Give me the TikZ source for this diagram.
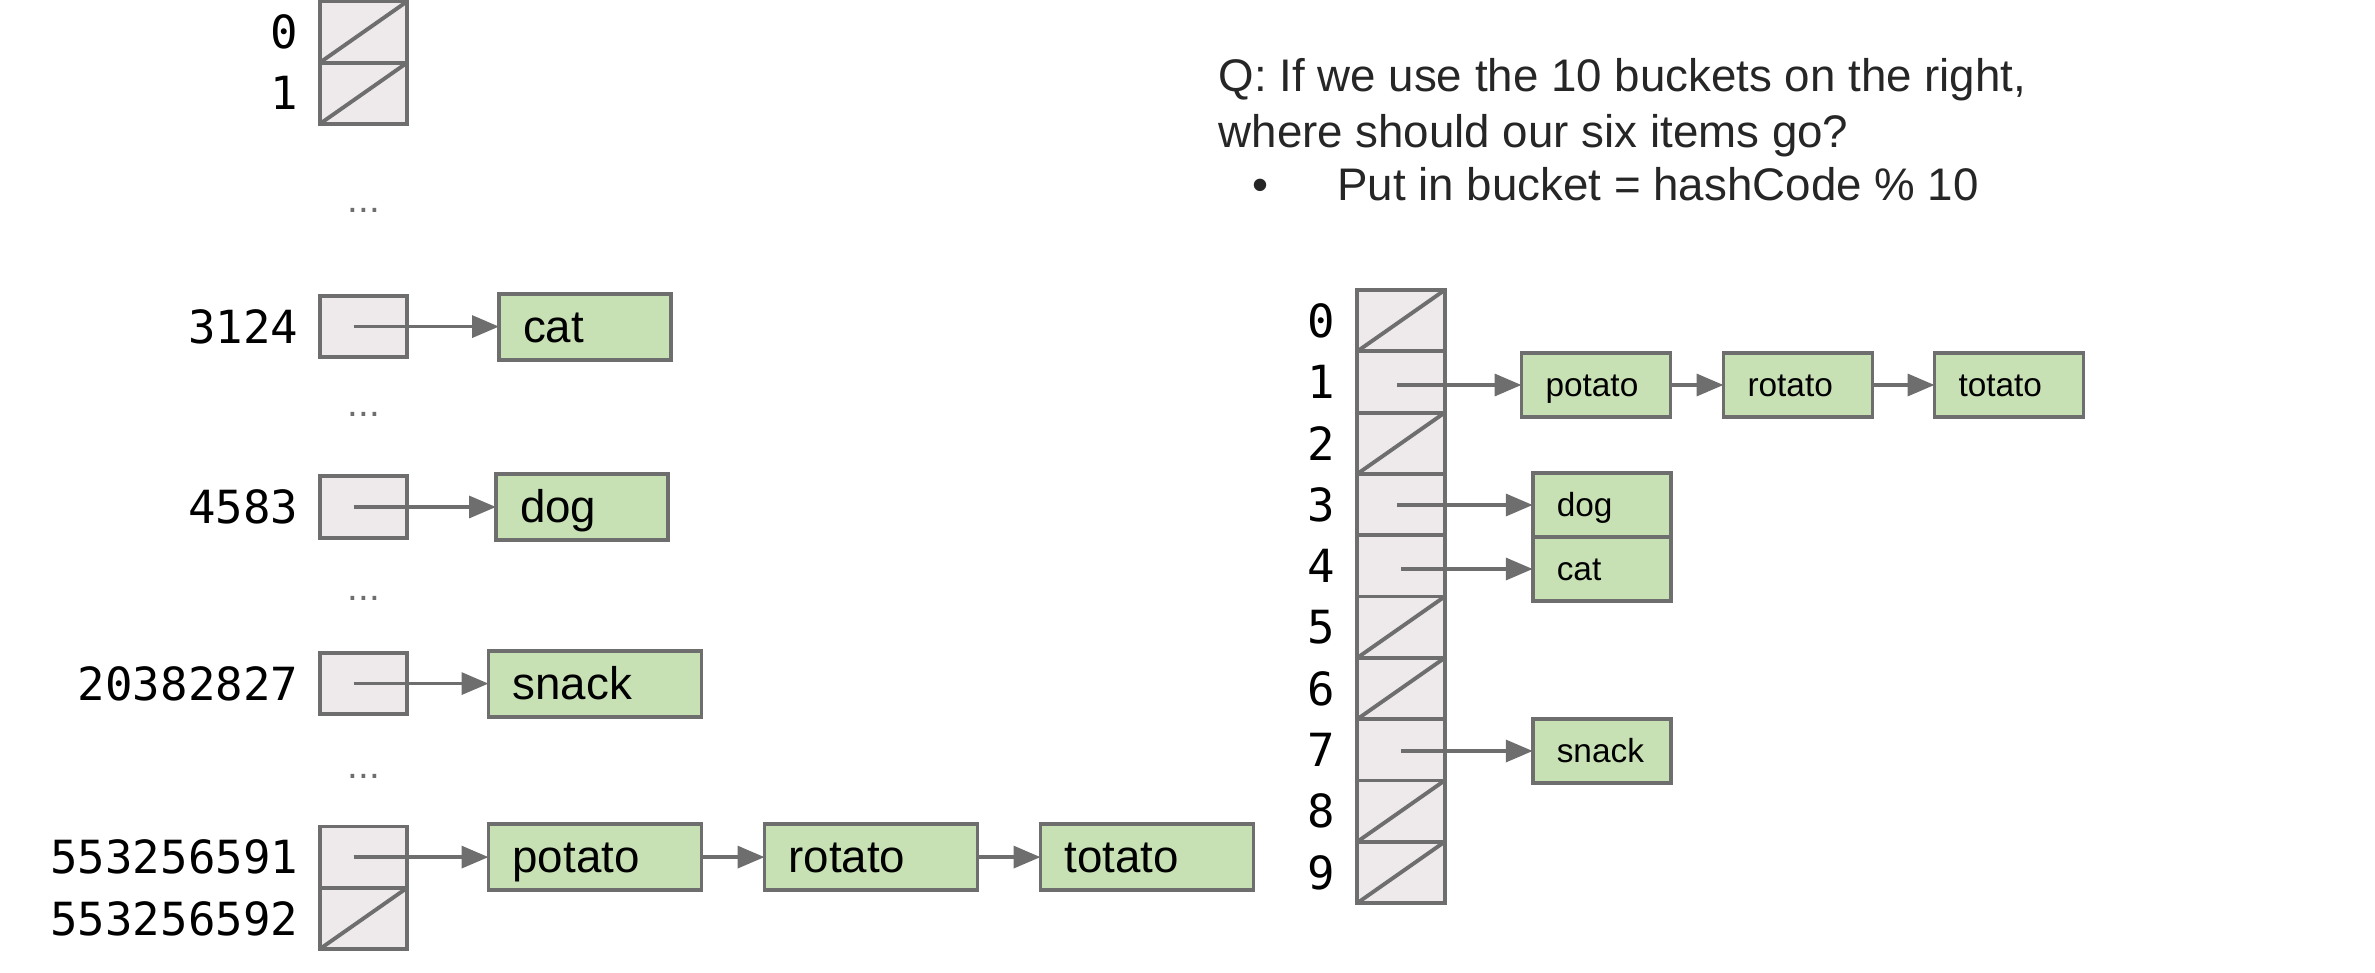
\documentclass[tikz,border=0pt]{standalone}
\usepackage{fontspec}
\setmainfont{Liberation Sans}
\setmonofont{DejaVu Sans Mono}
\usepackage{tikz}
\usetikzlibrary{positioning,arrows.meta}

\definecolor{slotgray}{HTML}{EEEAEC}
\definecolor{edgegray}{HTML}{6E6E6E}
\definecolor{itemgreen}{HTML}{C8E1B4}
\definecolor{textgray}{HTML}{262626}

\tikzset{
  bucket/.style={draw=edgegray, fill=slotgray, line width=1.1pt, minimum width=0.875cm, minimum height=0.613cm, inner sep=0pt, outer sep=0pt},
  entry/.style={draw=edgegray, fill=itemgreen, line width=1.1pt, minimum height=0.66cm, inner xsep=0.24cm, inner ysep=0pt, outer sep=0pt, text width=#1, align=left, text height=1.0em, text depth=0.12em, font=\fontsize{13}{15}\selectfont},
  smallentry/.style={entry=#1, minimum height=0.64cm, text height=0.8em, text depth=0.12em, font=\fontsize{9.5}{11}\selectfont},
  ptr/.style={draw=edgegray, line width=1pt, -{Triangle[length=2.7mm, width=2.2mm]}},
  nullptr/.style={draw=edgegray, line width=1.1pt},
  idx/.style={inner sep=0pt, font=\ttfamily\fontsize{13}{15}\selectfont},
  skip/.style={inner sep=0pt, text=edgegray, font=\fontsize{11}{12}\selectfont},
  question/.style={anchor=base west, inner sep=0pt, text=textgray, font=\fontsize{13}{16}\selectfont}
}

\begin{document}
\begin{tikzpicture}
\useasboundingbox (0,0) rectangle (23.75,9.72);

\node[bucket] (a0) at (3.635, 9.40) {};
\node[bucket, below=0pt of a0] (a1) {};
\node[bucket] (a3124) at (3.635, 6.454) {};
\node[bucket] (a4583) at (3.635, 4.650) {};
\node[bucket] (a20382827) at (3.635, 2.884) {};
\node[bucket] (a553256591) at (3.635, 1.149) {};
\node[bucket, below=0pt of a553256591] (a553256592) {};

\node[idx, left=0.21cm of a0] (la0) {0};
\node[idx, left=0.21cm of a1] (la1) {1};
\node[idx, left=0.21cm of a3124] (la3124) {3124};
\node[idx, left=0.21cm of a4583] (la4583) {4583};
\node[idx, left=0.21cm of a20382827] (la20382827) {20382827};
\node[idx, left=0.21cm of a553256591] (la553256591) {553256591};
\node[idx, left=0.21cm of a553256592] (la553256592) {553256592};

\node[skip] (d1) at (3.639, 7.619) {...};
\node[skip] (d2) at (3.639, 5.579) {...};
\node[skip] (d3) at (3.639, 3.737) {...};
\node[skip] (d4) at (3.639, 1.956) {...};

\draw[nullptr] (a0.south west) -- (a0.north east);
\draw[nullptr] (a1.south west) -- (a1.north east);
\draw[nullptr] (a553256592.south west) -- (a553256592.north east);

\node[entry=1.24cm] (cat) at (5.85, 6.454) {cat};
\node[entry=1.24cm] (dog) at (5.82, 4.650) {dog};
\node[entry=1.65cm] (snack) at (5.95, 2.884) {snack};
\node[entry=1.65cm] (potato) at (5.95, 1.149) {potato};
\node[entry=1.65cm] (rotato) at (8.71, 1.149) {rotato};
\node[entry=1.65cm] (totato) at (11.47, 1.149) {totato};

\draw[ptr] ([xshift=-1mm]a3124.center) -- (cat.west);
\draw[ptr] ([xshift=-1mm]a4583.center) -- (dog.west);
\draw[ptr] ([xshift=-1mm]a20382827.center) -- (snack.west);
\draw[ptr] ([xshift=-1mm]a553256591.center) -- (potato.west);
\draw[ptr] (potato.east) -- (rotato.west);
\draw[ptr] (rotato.east) -- (totato.west);

\node[question] (q1) at (12.179, 8.807) {Q: If we use the 10 buckets on the right,};
\node[question] (q2) at (12.179, 8.243) {where should our six items go?};
\node[question, anchor=base] (bul) at (12.606, 7.710) {\textbullet};
\node[question] (put) at (13.367, 7.710) {Put in bucket = hashCode \% 10};

\node[bucket] (b0) at (14.01, 6.513) {};
\node[bucket, below=0pt of b0] (b1) {};
\node[bucket, below=0pt of b1] (b2) {};
\node[bucket, below=0pt of b2] (b3) {};
\node[bucket, below=0pt of b3] (b4) {};
\node[bucket, below=0pt of b4] (b5) {};
\node[bucket, below=0pt of b5] (b6) {};
\node[bucket, below=0pt of b6] (b7) {};
\node[bucket, below=0pt of b7] (b8) {};
\node[bucket, below=0pt of b8] (b9) {};

\node[idx, left=0.22cm of b0] (lb0) {0};
\node[idx, left=0.22cm of b1] (lb1) {1};
\node[idx, left=0.22cm of b2] (lb2) {2};
\node[idx, left=0.22cm of b3] (lb3) {3};
\node[idx, left=0.22cm of b4] (lb4) {4};
\node[idx, left=0.22cm of b5] (lb5) {5};
\node[idx, left=0.22cm of b6] (lb6) {6};
\node[idx, left=0.22cm of b7] (lb7) {7};
\node[idx, left=0.22cm of b8] (lb8) {8};
\node[idx, left=0.22cm of b9] (lb9) {9};

\draw[nullptr] (b0.south west) -- (b0.north east);
\draw[nullptr] (b2.south west) -- (b2.north east);
\draw[nullptr] (b5.south west) -- (b5.north east);
\draw[nullptr] (b6.south west) -- (b6.north east);
\draw[nullptr] (b8.south west) -- (b8.north east);
\draw[nullptr] (b9.south west) -- (b9.north east);

\node[smallentry=1.01cm] (rpotato) at (15.96, 5.87) {potato};
\node[smallentry=1.01cm] (rrotato) at (17.98, 5.87) {rotato};
\node[smallentry=1.01cm] (rtotato) at (20.09, 5.87) {totato};
\node[smallentry=0.905cm] (rdog) at (16.02, 4.67) {dog};
\node[smallentry=0.905cm] (rcat) at (16.02, 4.03) {cat};
\node[smallentry=0.905cm] (rsnack) at (16.02, 2.21) {snack};

\draw[ptr] ([xshift=-0.4mm]b1.center |- rpotato.west) -- (rpotato.west);
\draw[ptr] (rpotato.east) -- (rrotato.west);
\draw[ptr] (rrotato.east) -- (rtotato.west);
\draw[ptr] ([xshift=-0.4mm]b3.center |- rdog.west) -- (rdog.west);
\draw[ptr] (b4.center |- rcat.west) -- (rcat.west);
\draw[ptr] (b7.center |- rsnack.west) -- (rsnack.west);

\end{tikzpicture}
\end{document}
